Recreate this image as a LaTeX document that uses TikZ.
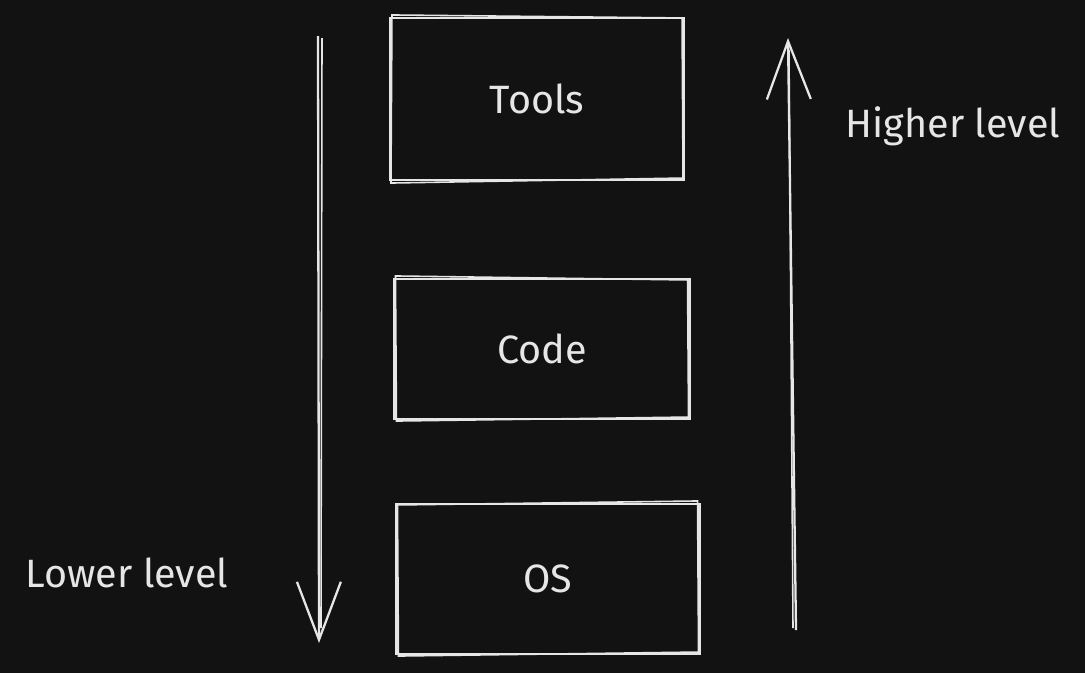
\documentclass[tikz,border=0pt]{standalone}
\usepackage{fontspec}
\setmainfont{Fira Sans}
\usetikzlibrary{arrows.meta}
\definecolor{bg}{HTML}{121212}
\definecolor{ink}{HTML}{E6E6E6}
\begin{document}
\begin{tikzpicture}[x=0.02cm,y=-0.02cm,
  blk/.style={draw=ink,line width=1.2pt,text=ink,font=\fontsize{22.5}{26}\selectfont,inner sep=0pt},
  lbl/.style={text=ink,font=\fontsize{22.5}{26}\selectfont,inner sep=0pt},
  sk/.style={draw=ink,line width=0.9pt},
  conn/.style={draw=ink,line width=1.3pt,-{Straight Barb[length=33pt,width=25pt,line width=1.3pt]}}]
\fill[bg] (0,0) rectangle (1085,673);
\useasboundingbox (0,0) rectangle (1085,673);
% boxes
\node[blk,minimum width=5.88cm,minimum height=3.24cm] (tools) at (537,99) {Tools};
\node[blk,minimum width=5.9cm,minimum height=2.8cm] (code) at (542,349) {Code};
\node[blk,minimum width=6.06cm,minimum height=3.0cm] (os) at (548,579) {OS};
% sketchy second strokes
\draw[sk] ([shift={(3,-2)}]tools.north west) -- ([shift={(-3,1)}]tools.north east) -- ([shift={(-2,-3)}]tools.south east) -- ([shift={(2,2)}]tools.south west) -- cycle;
\draw[sk] ([shift={(2,-2)}]code.north west) -- ([shift={(-3,2)}]code.north east) -- ([shift={(-2,-3)}]code.south east) -- ([shift={(3,1)}]code.south west) -- cycle;
\draw[sk] ([shift={(2,2)}]os.north west) -- ([shift={(-3,-2)}]os.north east) -- ([shift={(-2,-3)}]os.south east) -- ([shift={(3,1)}]os.south west) -- cycle;
% arrows
\coordinate (dtop) at (318,36);
\coordinate (dbot) at (319,643);
\coordinate (dtop2) at (322,38);
\coordinate (dbot2) at (321,628);
\draw[conn] (dtop) -- (dbot);
\draw[sk] (dtop2) -- (dbot2);
\coordinate (ubot) at (796,630);
\coordinate (utop) at (788,38);
\draw[conn] (ubot) -- (utop);
\draw[sk] (793,628) -- (789,50);
% labels
\node[lbl] (hl) at (953,126) {Higher level};
\node[lbl] (ll) at (127,573) {Lower level};
\end{tikzpicture}
\end{document}
